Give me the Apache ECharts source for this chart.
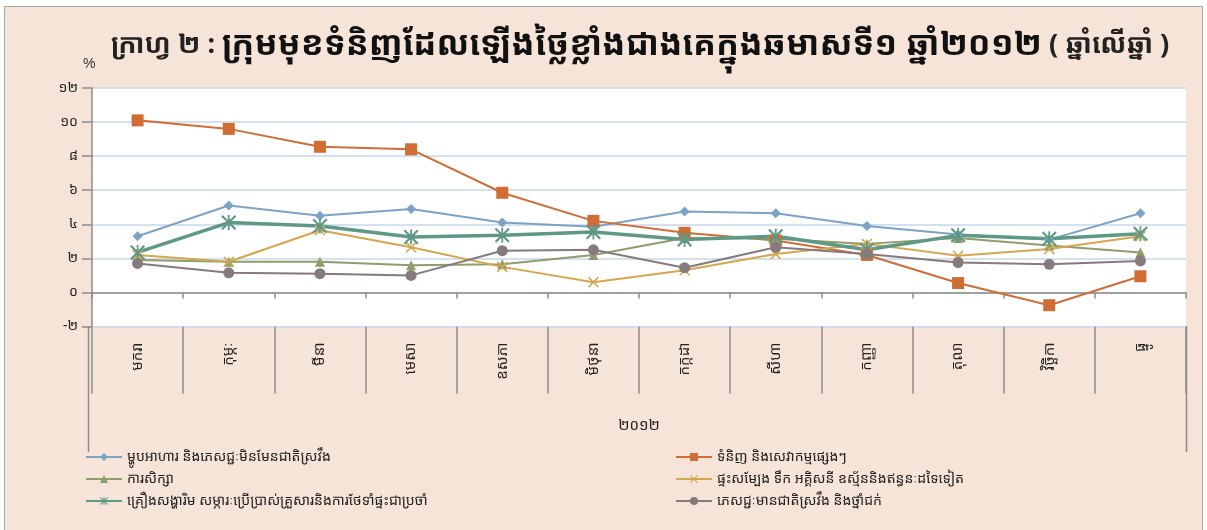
<!DOCTYPE html>
<html>
<head>
<meta charset="utf-8">
<script src="https://cdn.jsdelivr.net/npm/echarts@6/dist/echarts.min.js"></script>
<style>
  html, body { margin: 0; padding: 0; background: #fff; }
  #frame { position: absolute; left: 4px; top: 6px; width: 1199px; height: 530px; background: #f6e4d8; border: 1px solid #a8a8a8; box-sizing: border-box; }
  #chart { position: absolute; left: 0; top: 0; width: 1207px; height: 530px; }
</style>
</head>
<body>
<div id="frame"></div>
<div id="chart"></div>
<script>
// months of 2012 (Khmer)
const months = ['មករា', 'កុម្ភៈ', 'មីនា', 'មេសា', 'ឧសភា', 'មិថុនា', 'កក្កដា', 'សីហា', 'កញ្ញា', 'តុលា', 'វិច្ឆិកា', 'ធ្នូ']
const yearLabel = '២០១២'
const yTicks = ['-២', '០', '២', '៤', '៦', '៨', '១០', '១២']

const seriesNames = [
  'ម្ហូបអាហារ និងភេសជ្ជៈមិនមែនជាតិស្រវឹង',
  'ទំនិញ និងសេវាកម្មផ្សេងៗ',
  'ការសិក្សា',
  'ផ្ទះសម្បែង ទឹក អគ្គិសនី ឧស្ម័ននិងឥន្ធនៈដទៃទៀត',
  'គ្រឿងសង្ហារិម សម្ភារៈប្រើប្រាស់គ្រួសារនិងការថែទាំផ្ទះជាប្រចាំ',
  'ភេសជ្ជៈមានជាតិស្រវឹង និងថ្នាំជក់',
]

const food      = [3.3, 5.1, 4.5, 4.9, 4.1, 3.85, 4.75, 4.65, 3.9, 3.4, 3.1, 4.65]
const goods     = [10.1, 9.6, 8.55, 8.4, 5.85, 4.2, 3.5, 3.05, 2.2, 0.55, -0.75, 0.95]
const education = [1.9, 1.8, 1.8, 1.6, 1.65, 2.2, 3.2, 3.15, 2.85, 3.2, 2.75, 2.35]
const housing   = [2.2, 1.8, 3.65, 2.65, 1.5, 0.6, 1.3, 2.25, 2.85, 2.15, 2.55, 3.3]
const furniture = [2.35, 4.1, 3.9, 3.25, 3.35, 3.55, 3.1, 3.3, 2.5, 3.35, 3.15, 3.45]
const alcohol   = [1.7, 1.15, 1.1, 1.0, 2.45, 2.5, 1.45, 2.65, 2.25, 1.75, 1.65, 1.85]

const KHMER_FONT = '"Noto Sans Khmer", "Khmer OS", "Khmer OS System", "DejaVu Sans", sans-serif'

const xMark = 'path://M1,0 L5,4 L9,0 L10,1 L6,5 L10,9 L9,10 L5,6 L1,10 L0,9 L4,5 L0,1 Z'
const starMark = 'path://M1,0 L5,4 L9,0 L10,1 L6,5 L10,9 L9,10 L5,6 L1,10 L0,9 L4,5 L0,1 Z M4.4,0 L5.6,0 L5.6,10 L4.4,10 Z'

function line(name, data, color, symbol, size, width) {
  return {
    name,
    type: 'line',
    data,
    symbol,
    symbolSize: size,
    lineStyle: { color, width },
    itemStyle: { color },
    z: 3,
  }
}

const chart = echarts.init(document.getElementById('chart'))
chart.setOption({
  backgroundColor: 'transparent',
  animation: false,
  textStyle: { fontFamily: KHMER_FONT },
  title: {
    left: 106,
    top: 23,
    text: '{n|ក្រាហ្វ ២ : }{b|ក្រុមមុខទំនិញដែលឡើងថ្លៃខ្លាំងជាងគេក្នុងឆមាសទី១ ឆ្នាំ២០១២}{n| ( ឆ្នាំលើឆ្នាំ )}',
    textStyle: {
      rich: {
        n: { fontSize: 27, color: '#222', fontFamily: KHMER_FONT },
        b: { fontSize: 34, color: '#111', fontWeight: 'bold', fontFamily: KHMER_FONT },
      },
    },
  },
  graphic: [
    { type: 'text', left: 83, top: 57, style: { text: '%', fontSize: 14, fill: '#333', fontFamily: 'Liberation Sans' } },
    { type: 'rect', shape: { x: 92, y: 88, width: 1094, height: 238.5 }, style: { fill: '#fff' }, z: -1 },
    { type: 'line', shape: { x1: 88.5, y1: 326, x2: 88.5, y2: 452 }, style: { stroke: '#8c8c8c', lineWidth: 1.5 } },
    { type: 'line', shape: { x1: 1186.5, y1: 326, x2: 1186.5, y2: 452 }, style: { stroke: '#8c8c8c', lineWidth: 1.5 } },
  ],
  grid: { left: 92, right: 21, top: 88, bottom: 203.5 },
  legend: [
    {
      left: 80, top: 445, orient: 'vertical', itemGap: 8, itemWidth: 36, itemHeight: 10,
      data: [seriesNames[0], seriesNames[2], seriesNames[4]],
      textStyle: { fontSize: 14, color: '#222', fontFamily: KHMER_FONT },
    },
    {
      left: 670, top: 445, orient: 'vertical', itemGap: 8, itemWidth: 36, itemHeight: 10,
      data: [seriesNames[1], seriesNames[3], seriesNames[5]],
      textStyle: { fontSize: 14, color: '#222', fontFamily: KHMER_FONT },
    },
  ],
  xAxis: [
    {
      type: 'category',
      data: months,
      position: 'bottom',
      boundaryGap: true,
      axisLine: { show: false, onZero: false },
      axisTick: { show: true, interval: 0, length: 67, lineStyle: { color: '#8c8c8c', width: 1.5 } },
      axisLabel: { interval: 0, rotate: 90, margin: 16, fontSize: 15, color: '#222', fontFamily: KHMER_FONT },
      name: yearLabel,
      nameLocation: 'middle',
      nameGap: 92,
      nameTextStyle: { fontSize: 15, color: '#222', fontFamily: KHMER_FONT },
    },
    {
      type: 'category',
      data: months,
      position: 'bottom',
      boundaryGap: true,
      axisLine: { show: true, onZero: true, lineStyle: { color: '#8c8c8c', width: 1.5 } },
      axisTick: { show: true, interval: 0, length: 6, lineStyle: { color: '#8c8c8c', width: 1.5 } },
      axisLabel: { show: false },
    },
  ],
  yAxis: {
    type: 'value',
    min: -2,
    max: 12,
    interval: 2,
    axisLine: { show: true, lineStyle: { color: '#8c8c8c', width: 1.5 } },
    axisTick: { show: true, length: 10, lineStyle: { color: '#8c8c8c', width: 1.5 } },
    axisLabel: {
      margin: 14,
      fontSize: 14,
      color: '#222',
      fontFamily: KHMER_FONT,
      formatter: v => yTicks[Math.round((v + 2) / 2)],
    },
    splitLine: { lineStyle: { color: '#c6d7e8', width: 1.5 } },
  },
  series: [
    line(seriesNames[0], food, '#7ca3c6', 'diamond', 10, 2),
    line(seriesNames[1], goods, '#cf6d35', 'rect', 12, 2),
    line(seriesNames[2], education, '#8f9c6c', 'triangle', 10, 2),
    line(seriesNames[3], housing, '#d5a74c', xMark, 11, 2),
    line(seriesNames[4], furniture, '#5e9887', starMark, 15, 3.5),
    line(seriesNames[5], alcohol, '#867a7c', 'circle', 11, 2),
  ],
})
</script>
</body>
</html>
